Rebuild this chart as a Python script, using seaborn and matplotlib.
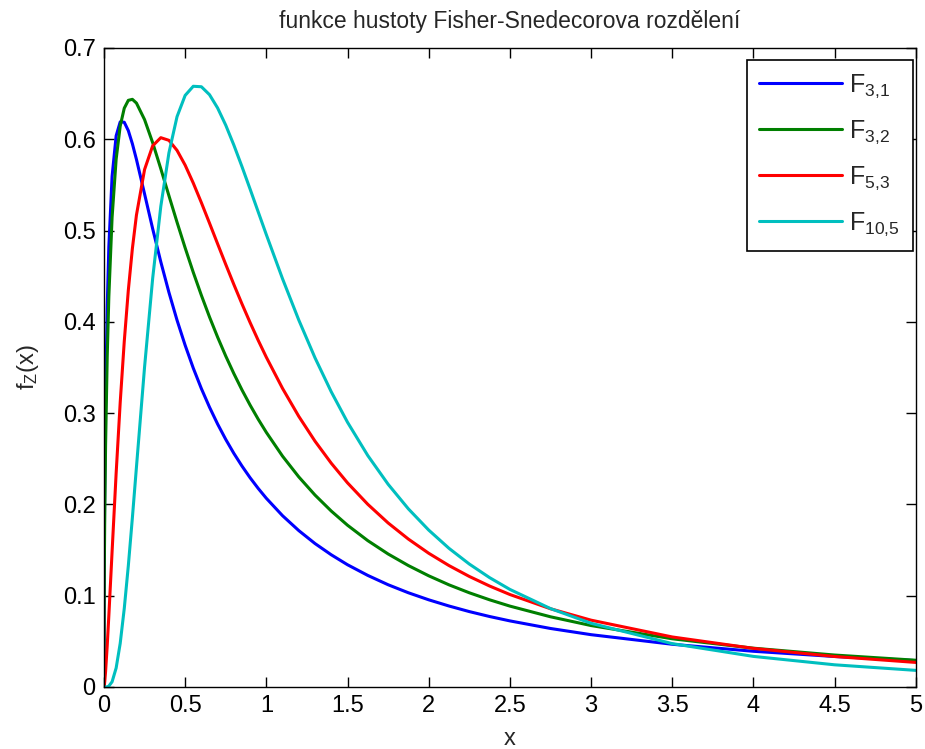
import matplotlib
matplotlib.use("Agg")
import matplotlib.pyplot as plt
import seaborn as sns
import pandas as pd

# x positions where the curves were read
x_vals = [0, 0.001, 0.0025, 0.005, 0.01, 0.02, 0.03, 0.05, 0.075, 0.1, 0.125, 0.15, 0.175, 0.2,
          0.25, 0.3, 0.35, 0.4, 0.45, 0.5, 0.55, 0.6, 0.65, 0.7, 0.75, 0.8, 0.85, 0.9, 0.95,
          1.0, 1.1, 1.2, 1.3, 1.4, 1.5, 1.625, 1.75, 1.875, 2.0, 2.125, 2.25, 2.375, 2.5,
          2.75, 3.0, 3.5, 4.0, 4.5, 5.0]

f_3_1 = [0, 0.1040, 0.1629, 0.2270, 0.3118, 0.4164, 0.4822, 0.5593, 0.6037, 0.6190, 0.6186,
         0.6094, 0.5950, 0.5779, 0.5401, 0.5019, 0.4657, 0.4323, 0.4018, 0.3743, 0.3493,
         0.3268, 0.3065, 0.2880, 0.2712, 0.2559, 0.2420, 0.2292, 0.2175,
         0.2067, 0.1876, 0.1713, 0.1571, 0.1448, 0.1339, 0.1222, 0.1120, 0.1032, 0.0955,
         0.0887, 0.0826, 0.0772, 0.0724, 0.0641, 0.0573, 0.0468, 0.0391, 0.0334, 0.0289]

f_3_2 = [0, 0.0868, 0.1365, 0.1913, 0.2655, 0.3620, 0.4276, 0.5143, 0.5781, 0.6144, 0.6340,
         0.6426, 0.6437, 0.6396, 0.6215, 0.5962, 0.5677, 0.5382, 0.5091, 0.4810, 0.4542,
         0.4290, 0.4053, 0.3832, 0.3625, 0.3433, 0.3254, 0.3088, 0.2933,
         0.2789, 0.2528, 0.2301, 0.2102, 0.1927, 0.1772, 0.1603, 0.1457, 0.1330, 0.1218,
         0.1119, 0.1032, 0.0955, 0.0886, 0.0769, 0.0673, 0.0528, 0.0425, 0.0350, 0.0293]

f_5_3 = [0, 0.0006, 0.0022, 0.0063, 0.0171, 0.0453, 0.0781, 0.1483, 0.2342, 0.3117, 0.3786,
         0.4346, 0.4803, 0.5169, 0.5668, 0.5928, 0.6017, 0.5988, 0.5878, 0.5716, 0.5520,
         0.5305, 0.5081, 0.4854, 0.4629, 0.4409, 0.4196, 0.3992, 0.3797,
         0.3612, 0.3270, 0.2964, 0.2692, 0.2451, 0.2236, 0.2001, 0.1797, 0.1620, 0.1465,
         0.1330, 0.1211, 0.1106, 0.1013, 0.0857, 0.0732, 0.0548, 0.0423, 0.0334, 0.0269]

f_10_5 = [0, 0, 0, 0, 0, 0.0002, 0.0010, 0.0057, 0.0208, 0.0478, 0.0860,
          0.1328, 0.1854, 0.2408, 0.3504, 0.4477, 0.5264, 0.5850, 0.6247, 0.6480, 0.6580,
          0.6575, 0.6488, 0.6342, 0.6154, 0.5936, 0.5700, 0.5454, 0.5204,
          0.4955, 0.4471, 0.4019, 0.3605, 0.3233, 0.2900, 0.2535, 0.2221, 0.1951, 0.1719,
          0.1519, 0.1347, 0.1198, 0.1069, 0.0859, 0.0698, 0.0475, 0.0335, 0.0243, 0.0182]

series_labels = ["F$_{3{,}1}$", "F$_{3{,}2}$", "F$_{5{,}3}$", "F$_{10{,}5}$"]
series_colors = ["#0000ff", "#007f00", "#ff0000", "#00bfbf"]

title_text = "funkce hustoty Fisher-Snedecorova rozdělení"
x_label = "x"
y_label = "f$_Z$(x)"
x_ticks = [0, 0.5, 1, 1.5, 2, 2.5, 3, 3.5, 4, 4.5, 5]
x_tick_labels = ["0", "0.5", "1", "1.5", "2", "2.5", "3", "3.5", "4", "4.5", "5"]
y_ticks = [0, 0.1, 0.2, 0.3, 0.4, 0.5, 0.6, 0.7]
y_tick_labels = ["0", "0.1", "0.2", "0.3", "0.4", "0.5", "0.6", "0.7"]

frames = []
for lab, ys in zip(series_labels, [f_3_1, f_3_2, f_5_3, f_10_5]):
    frames.append(pd.DataFrame({"x": x_vals, "y": ys, "series": lab}))
df = pd.concat(frames, ignore_index=True)

sns.set_style("ticks")
plt.rcParams["font.family"] = ["Liberation Sans", "DejaVu Sans"]
plt.rcParams["mathtext.default"] = "regular"

fig = plt.figure(figsize=(9.25, 7.49), dpi=100)
ax = fig.add_axes([0.1124, 0.0828, 0.8776, 0.8532])

sns.lineplot(data=df, x="x", y="y", hue="series", hue_order=series_labels,
             palette=dict(zip(series_labels, series_colors)), linewidth=2.2,
             estimator=None, sort=False, ax=ax)

ax.set_xlim(0, 5)
ax.set_ylim(0, 0.7)
ax.set_xticks(x_ticks)
ax.set_xticklabels(x_tick_labels)
ax.set_yticks(y_ticks)
ax.set_yticklabels(y_tick_labels)
ax.tick_params(direction="in", length=7, width=1, top=True, right=True,
               labelsize=17, colors="black", pad=6)
for s in ax.spines.values():
    s.set_visible(True)
    s.set_color("black")
    s.set_linewidth(1)

ax.set_title(title_text, fontsize=16.5, pad=14)
ax.set_xlabel(x_label, fontsize=17, labelpad=8)
ax.set_ylabel(y_label, fontsize=17, labelpad=16)

leg = ax.legend(loc="upper right", bbox_to_anchor=(0.9963, 0.9812), fontsize=18,
                frameon=True, fancybox=False, edgecolor="black", framealpha=1,
                handlelength=3.3, labelspacing=0.75, borderpad=0.5, handletextpad=0.3,
                borderaxespad=0)
leg.get_frame().set_linewidth(1.2)

fig.savefig("out.png", dpi=100)
